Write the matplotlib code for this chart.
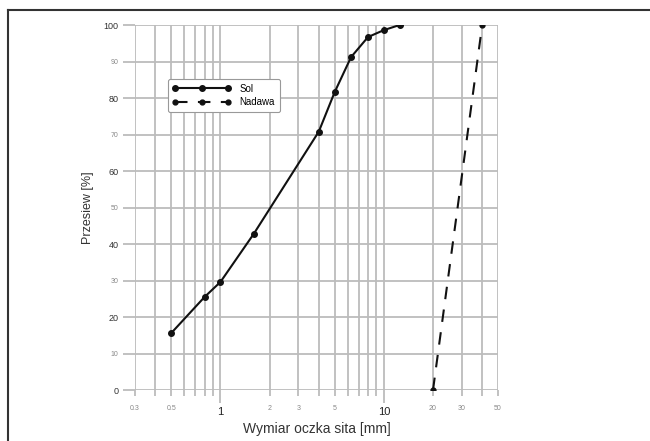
import matplotlib
matplotlib.use('Agg')
import matplotlib.pyplot as plt
from matplotlib.lines import Line2D
from matplotlib.ticker import FixedLocator, FixedFormatter

# data
sol_x = [0.5, 0.8, 1.0, 1.6, 4.0, 5.0, 6.3, 8.0, 10.0, 12.5]
sol_y = [15.6, 25.5, 29.6, 42.8, 70.8, 81.6, 91.2, 96.7, 98.6, 100.0]
nad_x = [20, 40]
nad_y = [0, 100]

x_major = [1, 10]
x_minor = [0.3, 0.4, 0.5, 0.6, 0.7, 0.8, 0.9, 2, 3, 4, 5, 6, 7, 8, 9, 20, 30, 40, 50]
x_minor_labels = ['0.3', '', '0.5', '', '', '', '', '2', '3', '', '5', '', '', '', '',
                  '20', '30', '', '50']
y_major = [0, 20, 40, 60, 80, 100]
y_minor = [10, 30, 50, 70, 90]

plt.rcParams['font.family'] = ['Liberation Sans', 'DejaVu Sans']

fig = plt.figure(figsize=(6.5, 4.41), dpi=100)
ax = fig.add_axes([0.2077, 0.1156, 0.5585, 0.8277])

grid_c = '#bcbcbc'
ax.plot(sol_x, sol_y, '-o', color='#111111', lw=1.5, ms=4, label='Sol', zorder=3)
ax.plot(nad_x, nad_y, '--o', color='#111111', lw=1.5, ms=3.5, dashes=(6, 5),
        label='Nadawa', zorder=3)

ax.set_xscale('log')
ax.set_xlim(0.3, 50)
ax.set_ylim(0, 100)

ax.xaxis.set_major_locator(FixedLocator(x_major))
ax.xaxis.set_major_formatter(FixedFormatter(['1', '10']))
ax.xaxis.set_minor_locator(FixedLocator(x_minor))
ax.xaxis.set_minor_formatter(FixedFormatter(x_minor_labels))
ax.yaxis.set_major_locator(FixedLocator(y_major))
ax.yaxis.set_minor_locator(FixedLocator(y_minor))
ax.yaxis.set_minor_formatter(FixedFormatter([str(v) for v in y_minor]))

ax.grid(True, which='both', color=grid_c, lw=1.3)
ax.set_axisbelow(True)
for s in ax.spines.values():
    s.set_visible(False)

ax.tick_params(axis='x', which='major', length=9, width=1.3, color=grid_c,
               labelsize=8, pad=3, labelcolor='#222222')
ax.tick_params(axis='x', which='minor', length=4, width=1.3, color=grid_c,
               labelsize=5, pad=7, labelcolor='#888888')
ax.tick_params(axis='y', which='major', length=9, width=1.3, color=grid_c,
               labelsize=6.5, pad=3, labelcolor='#333333')
ax.tick_params(axis='y', which='minor', length=9, width=1.3, color=grid_c,
               labelsize=5, pad=3, labelcolor='#888888')

ax.set_xlabel('Wymiar oczka sita [mm]', fontsize=10, color='#333333', labelpad=4)
ax.set_ylabel('Przesiew [%]', fontsize=9, color='#333333', labelpad=7)

leg = ax.legend(loc='upper left', bbox_to_anchor=(0.09, 0.852), numpoints=3,
                fontsize=7, frameon=True, fancybox=True, handlelength=6,
                borderpad=0.5, labelspacing=0.35, handletextpad=0.9,
                borderaxespad=0)
leg.get_frame().set_edgecolor('#999999')
leg.get_frame().set_linewidth(0.8)
leg.get_frame().set_alpha(1)

# page frame (left and top edge)
fig.add_artist(Line2D([8 / 650, 8 / 650], [0, 1 - 10 / 441], transform=fig.transFigure,
                      color='#333333', lw=1.5))
fig.add_artist(Line2D([8 / 650, 1], [1 - 10 / 441, 1 - 10 / 441], transform=fig.transFigure,
                      color='#333333', lw=1.5))

fig.savefig('out.png', dpi=100)
